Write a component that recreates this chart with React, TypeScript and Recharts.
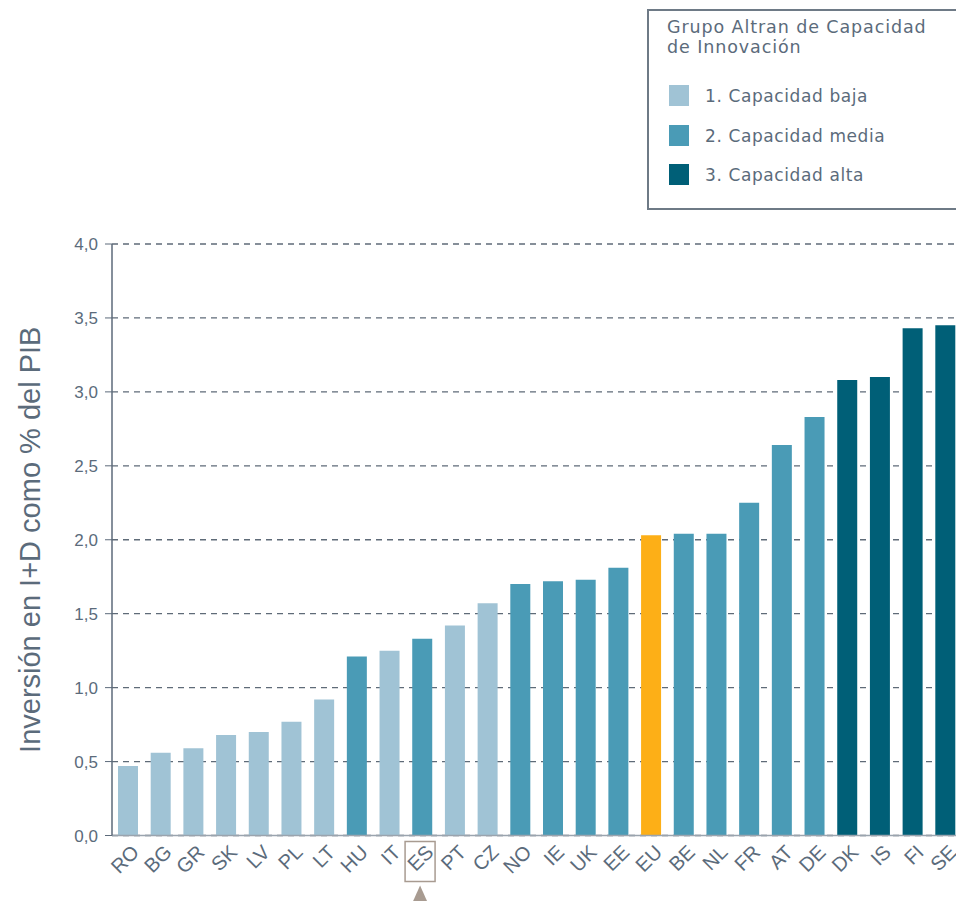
import React from 'react';
import { BarChart, Bar, XAxis, YAxis, CartesianGrid, Cell } from 'recharts';

const categories = ['RO','BG','GR','SK','LV','PL','LT','HU','IT','ES','PT','CZ','NO','IE','UK','EE','EU','BE','NL','FR','AT','DE','DK','IS','FI','SE'];
const values = [0.47,0.56,0.59,0.68,0.70,0.77,0.92,1.21,1.25,1.33,1.42,1.57,1.70,1.72,1.73,1.81,2.03,2.04,2.04,2.25,2.64,2.83,3.08,3.10,3.43,3.45];
// 0 = EU average, 1 = baja, 2 = media, 3 = alta
const groups = [1,1,1,1,1,1,1,2,1,2,1,1,2,2,2,2,0,2,2,2,2,2,3,3,3,3];
const yTicks = [0, 0.5, 1, 1.5, 2, 2.5, 3, 3.5, 4];
const legendTitleLines = ['Grupo Altran de Capacidad', 'de Innovación'];
const legendLabels = ['1. Capacidad baja', '2. Capacidad media', '3. Capacidad alta'];
const highlighted = 'ES';

const groupColors = ['#FDAF17', '#A0C3D5', '#4A9BB6', '#005F77'];
const textColor = '#5B6B7B';
const markColor = '#A89B91';

const data = categories.map((c, i) => ({ name: c, value: values[i], group: groups[i] }));

const XTick = (props: any) => {
  const { x, y, payload } = props;
  const isHL = payload.value === highlighted;
  return (
    <g transform={`translate(${x},${y})`}>
      {isHL && (
        <rect x={-17.5} y={6} width={30} height={40} fill="none" stroke={markColor} strokeWidth={1.5} />
      )}
      {isHL && <polygon points="-2.5,50 -11,69 6,69" fill={markColor} />}
      <text
        transform="translate(12,18) rotate(-45)"
        textAnchor="end"
        fill={textColor}
        fontSize={20}
        fontFamily="'Liberation Sans', Arial, sans-serif"
      >
        {payload.value}
      </text>
    </g>
  );
};

export default function App() {
  return (
    <div style={{ position: 'absolute', left: 0, top: 0, width: 956, height: 901, overflow: 'hidden', background: '#fff' }}>
      <BarChart
        width={962}
        height={901}
        data={data}
        margin={{ top: 244, right: 0, bottom: 0, left: 0 }}
        barSize={20}
      >
        <CartesianGrid horizontal={true} vertical={false} stroke="#5F6B78" strokeDasharray="6 5" strokeWidth={1.3} />
        <XAxis
          dataKey="name"
          height={65.5}
          interval={0}
          tick={<XTick />}
          tickSize={0}
          tickMargin={0}
          tickLine={false}
          axisLine={{ stroke: '#9AA4AE', strokeWidth: 1.5 }}
        />
        <YAxis
          width={112}
          domain={[0, 4]}
          ticks={yTicks}
          tickFormatter={(v: number) => v.toFixed(1).replace('.', ',')}
          tick={{ fill: textColor, fontSize: 17, fontFamily: "'Liberation Sans', Arial, sans-serif" }}
          tickSize={7}
          tickMargin={7}
          tickLine={{ stroke: '#5C6A7A' }}
          axisLine={{ stroke: '#5C6A7A', strokeWidth: 1.5 }}
          label={{
            value: 'Inversión en I+D como % del PIB',
            angle: -90,
            position: 'insideLeft',
            offset: 30,
            style: { fill: textColor, fontSize: 29, fontFamily: "'Liberation Sans', Arial, sans-serif", textAnchor: 'middle' },
          }}
        />
        <Bar dataKey="value" isAnimationActive={false}>
          {data.map((d, i) => (
            <Cell key={i} fill={groupColors[d.group]} />
          ))}
        </Bar>
      </BarChart>
      <div
        style={{
          position: 'absolute',
          left: 647,
          top: 9,
          width: 320,
          height: 201,
          border: '2px solid #6E7A86',
          boxSizing: 'border-box',
          fontFamily: "'DejaVu Sans', sans-serif",
          color: textColor,
        }}
      >
        <div style={{ position: 'absolute', left: 18, top: 6, width: 300, fontSize: 17.5, lineHeight: '20px', letterSpacing: 0.9 }}>
          {legendTitleLines.map((t, i) => (
            <div key={i}>{t}</div>
          ))}
        </div>
        {legendLabels.map((l, i) => (
          <div key={i} style={{ position: 'absolute', left: 20, top: 74 + i * 40 - (i === 2 ? 1 : 0), height: 21, display: 'flex', alignItems: 'center' }}>
            <div style={{ width: 20, height: 21, background: groupColors[i + 1] }} />
            <span style={{ marginLeft: 16, fontSize: 17, letterSpacing: 0.6 }}>{l}</span>
          </div>
        ))}
      </div>
    </div>
  );
}
